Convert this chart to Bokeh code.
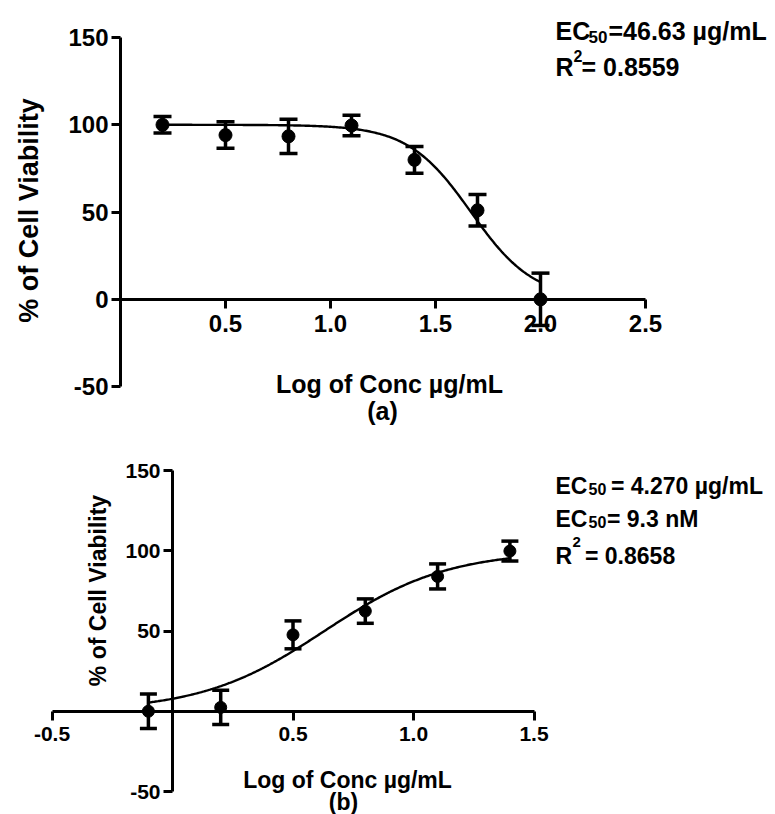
import numpy as np
from bokeh.plotting import figure
from bokeh.layouts import column
from bokeh.models import (ColumnDataSource, Whisker, TeeHead, FixedTicker,
                          NumeralTickFormatter, Range1d)
from bokeh.core.properties import value
from bokeh.embed import file_html
from bokeh.resources import INLINE

# ---------------- data: panel (a) ----------------
log_conc_a = [0.2, 0.5, 0.8, 1.1, 1.4, 1.7, 2.0]
viability_a = [100.0, 94.1, 93.4, 99.6, 79.9, 51.0, 0.0]
err_a = [4.7, 7.6, 9.8, 5.9, 7.7, 9.0, 15.0]
ec50_a = 46.63          # µg/mL
hill_a = -2.9
top_a, bottom_a = 100.0, 0.0
xticks_a = [0.5, 1.0, 1.5, 2.0, 2.5]
yticks_a = [-50, 0, 50, 100, 150]

# ---------------- data: panel (b) ----------------
log_conc_b = [-0.1, 0.2, 0.5, 0.8, 1.1, 1.4]
viability_b = [0.0, 2.4, 47.6, 62.4, 84.0, 99.8]
err_b = [10.7, 10.7, 8.7, 7.6, 7.8, 6.2]
ec50_b = 4.270          # µg/mL
hill_b = 1.7
top_b, bottom_b = 100.0, 0.0
xticks_b = [-0.5, 0.5, 1.0, 1.5]
yticks_b = [-50, 50, 100, 150]

FONT = "Liberation Sans"
W = 775


def fit_curve(xs, ec50, hill, top, bottom):
    xx = np.linspace(min(xs), max(xs), 300)
    yy = bottom + (top - bottom) / (1 + 10 ** ((np.log10(ec50) - xx) * hill))
    return xx, yy


def make_panel(height, page_top, x0px, xscale, y0px, yscale,
               xs, ys, es, ec50, hill, top, bottom,
               xticks, yticks, xbounds, ybounds,
               tick_size, msize, cap, texts):
    # page pixel -> data helpers (layout only)
    def dx(px):
        return (px - x0px) / xscale

    def dy(py):
        return (y0px - py) / yscale

    p = figure(width=W, height=height,
               x_range=Range1d(dx(0), dx(W)),
               y_range=Range1d(dy(page_top + height), dy(page_top)),
               output_backend="svg", toolbar_location=None, min_border=0)
    p.grid.visible = False
    p.outline_line_color = None
    p.background_fill_color = "white"
    p.border_fill_color = "white"

    p.xaxis.fixed_location = 0
    p.yaxis.fixed_location = 0
    p.xaxis.bounds = xbounds
    p.yaxis.bounds = ybounds
    p.xaxis.ticker = FixedTicker(ticks=xticks)
    p.yaxis.ticker = FixedTicker(ticks=yticks)
    p.xaxis.formatter = NumeralTickFormatter(format="0.0")
    p.yaxis.formatter = NumeralTickFormatter(format="0")
    for ax in (p.xaxis, p.yaxis):
        ax.axis_line_width = 3
        ax.axis_line_color = "black"
        ax.major_tick_line_width = 3
        ax.major_tick_line_color = "black"
        ax.major_tick_out = 9
        ax.major_tick_in = 0
        ax.minor_tick_line_color = None
        ax.major_label_text_font = FONT
        ax.major_label_text_font_style = "bold"
        ax.major_label_text_font_size = tick_size
        ax.major_label_text_color = "black"
    p.xaxis.major_label_standoff = 7
    p.yaxis.major_label_standoff = 3

    # fitted curve
    cx, cy = fit_curve(xs, ec50, hill, top, bottom)
    p.line(cx, cy, line_color="black", line_width=2.4)

    # error bars
    src = ColumnDataSource(dict(
        x=xs, y=ys,
        upper=[v + e for v, e in zip(ys, es)],
        lower=[v - e for v, e in zip(ys, es)]))
    w = Whisker(source=src, base="x", upper="upper", lower="lower",
                line_color="black", line_width=3.5,
                upper_head=TeeHead(size=cap, line_width=3.5, line_color="black"),
                lower_head=TeeHead(size=cap, line_width=3.5, line_color="black"))
    p.add_layout(w)
    p.scatter("x", "y", source=src, size=msize, marker="circle",
              fill_color="black", line_color="black")

    # texts (page pixel positions)
    for t in texts:
        txt, px, py, size, align, angle = t
        p.text(x=[dx(px)], y=[dy(py)], text=[txt],
               text_font=value(FONT), text_font_style="bold",
               text_font_size=size, text_color="black",
               text_align=align,
               text_baseline="middle" if angle else "alphabetic",
               angle=angle)
    return p


texts_a = [
    ("% of Cell Viability", 28, 210, "27px", "center", np.pi / 2),
    ("Log of Conc µg/mL", 389, 383, "25px", "center", 0),
    ("(a)", 382, 410, "25px", "center", 0),
    ("EC", 555, 30, "25px", "left", 0),
    ("50", 588, 36.5, "17px", "left", 0),
    ("=46.63 µg/mL", 608, 30, "25px", "left", 0),
    ("R", 555, 66.7, "25px", "left", 0),
    ("2", 573, 55, "16px", "left", 0),
    ("= 0.8559", 581, 66.7, "25px", "left", 0),
]

texts_b = [
    ("% of Cell Viability", 97, 590, "23px", "center", np.pi / 2),
    ("Log of Conc µg/mL", 347, 779, "23px", "center", 0),
    ("(b)", 343, 801, "23px", "center", 0),
    ("EC", 555, 485, "23px", "left", 0),
    ("50", 588, 488.5, "16px", "left", 0),
    ("= 4.270 µg/mL", 610.5, 485, "23px", "left", 0),
    ("EC", 555, 518.3, "23px", "left", 0),
    ("50", 588, 521.5, "16px", "left", 0),
    ("= 9.3 nM", 606.5, 518.3, "23px", "left", 0),
    ("R", 555, 555, "23px", "left", 0),
    ("2", 572, 541.5, "15px", "left", 0),
    ("= 0.8658", 584.5, 555, "23px", "left", 0),
]

p1 = make_panel(425, 0, 120, 210, 298.8, 1.745,
                log_conc_a, viability_a, err_a, ec50_a, hill_a, top_a, bottom_a,
                xticks_a, yticks_a, (0, 2.5), (-50, 150),
                "24px", 13, 18, texts_a)

p2 = make_panel(389, 425, 172, 241, 710.75, 1.605,
                log_conc_b, viability_b, err_b, ec50_b, hill_b, top_b, bottom_b,
                xticks_b, yticks_b, (-0.5, 1.5), (-50, 150),
                "21px", 12, 17, texts_b)

layout = column(p1, p2, spacing=0)
open("out.html", "w").write(file_html(layout, INLINE))
